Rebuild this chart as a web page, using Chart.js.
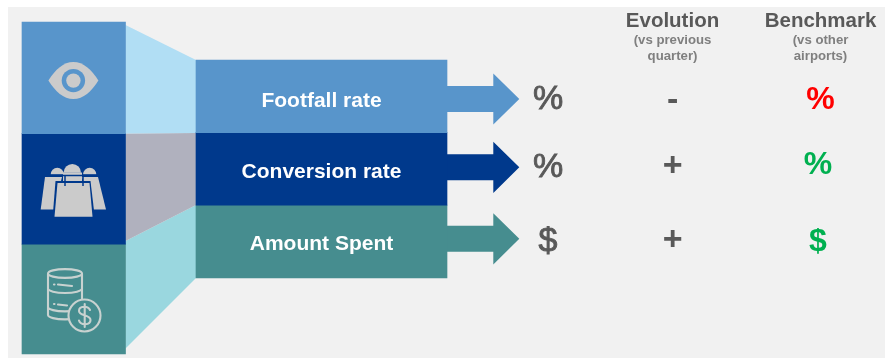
<!DOCTYPE html>
<html>
<head>
<meta charset="utf-8">
<title>Airport sales funnel KPIs</title>
<style>html,body{margin:0;padding:0;background:#fff}canvas{display:block}</style>
<script src="https://cdn.jsdelivr.net/npm/chart.js@4/dist/chart.umd.min.js"></script>
</head>
<body>
<canvas id="c" width="885" height="358"></canvas>
<script>
// Row content
const categories = ['Footfall rate', 'Conversion rate', 'Amount Spent'];
const units = ['%', '%', '$'];
const evolution = ['-', '+', '+'];
const benchmark = ['%', '%', '$'];
const benchmarkState = ['bad', 'good', 'good'];
const columnTitles = ['Evolution', 'Benchmark'];
const columnNotes = [['(vs previous', 'quarter)'], ['(vs other', 'airports)']];

// Diagram geometry, in the units of the two hidden axes
const rowCentres = [96.3, 168.9, 241.5];
const rowSpan = [196, 447];
const rowHeight = 72.6;
const blockCentres = [77.8, 188.8, 299];
const blockSpan = [22, 125.5];
const blockHeights = [111.6, 110.5, 110];
const funnelShapes = [
  [[125.5, 25], [196, 60], [196, 133], [125.5, 133.5]],
  [[125.5, 133.5], [196, 133], [196, 205], [125.5, 241]],
  [[125.5, 241], [196, 205], [196, 278], [125.5, 348.5]]
];
const arrowTips = [99, 167.3, 238.8];
const arrowShape = tip => [
  [447, tip - 13], [493.3, tip - 13], [493.3, tip - 25.6], [519.3, tip],
  [493.3, tip + 25.6], [493.3, tip + 13], [447, tip + 13]
];

const rowColours = ['#5895CB', '#00398C', '#468D8F'];
const funnelColours = ['#B1DEF4', '#B0B1BE', '#9AD7DF'];
const stateColours = { bad: '#FF0000', good: '#00B050' };
const iconGrey = '#CBCBCB';
const inkGrey = '#595959';
const font = 'Liberation Sans, Arial, sans-serif';

const polygon = (pts, colour) => ({
  type: 'scatter', showLine: false, pointRadius: 0,
  data: pts.map(([x, y]) => ({ x, y })),
  polygonFill: colour, xAxisID: 'x', yAxisID: 'y'
});

const band = (span, centres, thicknesses, i) => ({
  type: 'bar', indexAxis: 'y', grouped: false, xAxisID: 'x', yAxisID: 'y',
  data: [{ x: span, y: centres[i] }],
  barThickness: thicknesses,
  backgroundColor: rowColours[i]
});

const drawEye = (ctx, cx, cy, dark) => {
  ctx.fillStyle = iconGrey;
  ctx.beginPath();
  ctx.moveTo(cx - 25, cy);
  ctx.bezierCurveTo(cx - 18, cy - 11, cx - 10, cy - 18.5, cx, cy - 18.5);
  ctx.bezierCurveTo(cx + 10, cy - 18.5, cx + 18, cy - 11, cx + 25, cy);
  ctx.bezierCurveTo(cx + 18, cy + 11, cx + 10, cy + 18.5, cx, cy + 18.5);
  ctx.bezierCurveTo(cx - 10, cy + 18.5, cx - 18, cy + 11, cx - 25, cy);
  ctx.fill();
  ctx.fillStyle = dark;
  ctx.beginPath(); ctx.arc(cx, cy, 11.7, 0, Math.PI * 2); ctx.fill();
  ctx.fillStyle = iconGrey;
  ctx.beginPath(); ctx.arc(cx, cy, 7.2, 0, Math.PI * 2); ctx.fill();
};

const drawBags = (ctx, ox, oy, dark) => {
  const fillPoly = pts => {
    ctx.beginPath();
    pts.forEach(([x, y], i) => i ? ctx.lineTo(ox + x, oy + y) : ctx.moveTo(ox + x, oy + y));
    ctx.closePath(); ctx.fill();
  };
  const dome = (x, y, r) => { ctx.beginPath(); ctx.arc(ox + x, oy + y, r, Math.PI, 0); ctx.fill(); };
  ctx.fillStyle = iconGrey;
  dome(27.3, 24.3, 6.6); dome(42.3, 22.7, 8.7); dome(59.7, 24.3, 6.6);
  fillPoly([[33, 22.5], [52, 22.5], [52, 34], [33, 34]]);
  fillPoly([[15, 27], [32, 27], [24, 59.5], [10.7, 59.5]]);
  fillPoly([[52, 27], [68, 27], [76, 59.5], [62.5, 59.5]]);
  ctx.strokeStyle = dark; ctx.lineWidth = 1.5;
  ctx.beginPath();
  ctx.moveTo(ox + 20, oy + 25.5); ctx.lineTo(ox + 67, oy + 25.5);
  ctx.stroke();
  ctx.fillStyle = dark;
  fillPoly([[25.5, 31], [60.5, 31], [65, 69], [22.5, 69]]);
  ctx.fillStyle = iconGrey;
  fillPoly([[27.5, 33], [59.5, 33], [62.5, 66.7], [24.5, 66.7]]);
  ctx.strokeStyle = dark;
  ctx.beginPath();
  ctx.moveTo(ox + 35, oy + 25); ctx.lineTo(ox + 35, oy + 36);
  ctx.moveTo(ox + 53, oy + 25); ctx.lineTo(ox + 53, oy + 36);
  ctx.stroke();
};

const drawCoins = (ctx, dark) => {
  const ink = '#C8D2D0';
  ctx.strokeStyle = ink; ctx.lineWidth = 2.1; ctx.lineCap = 'round';
  ctx.beginPath();
  ctx.ellipse(65, 273.5, 17, 4.4, 0, 0, Math.PI * 2);
  ctx.moveTo(48, 273.5); ctx.lineTo(48, 315);
  ctx.moveTo(82, 273.5); ctx.lineTo(82, 300);
  [288.6, 307, 315].forEach(y => {
    ctx.moveTo(82, y);
    ctx.ellipse(65, y, 17, 4.4, 0, 0, Math.PI);
  });
  ctx.moveTo(54, 284.5); ctx.lineTo(54.5, 284.5);
  ctx.moveTo(58, 284.5); ctx.lineTo(72, 286);
  ctx.moveTo(54, 304); ctx.lineTo(54.5, 304);
  ctx.moveTo(58, 304.5); ctx.lineTo(67, 305.5);
  ctx.stroke();
  ctx.fillStyle = dark;
  ctx.beginPath(); ctx.arc(84.5, 315.5, 16, 0, Math.PI * 2); ctx.fill(); ctx.stroke();
  ctx.beginPath();
  ctx.moveTo(90, 310);
  ctx.bezierCurveTo(88, 305.5, 79, 305.5, 79, 311);
  ctx.bezierCurveTo(79, 316, 90.5, 314.5, 90.5, 320);
  ctx.bezierCurveTo(90.5, 325.5, 80.5, 325.5, 79, 320.5);
  ctx.moveTo(84.7, 304); ctx.lineTo(84.7, 327);
  ctx.stroke();
};

const diagram = {
  id: 'diagram',
  beforeDraw(chart) {
    const { ctx, scales: { x, y } } = chart;
    ctx.save();
    ctx.fillStyle = '#F1F1F1';
    ctx.fillRect(x.getPixelForValue(8), y.getPixelForValue(7), 885, 358);
    ctx.restore();
  },
  // Scatter datasets carry outlines: fill them from the points the scales placed.
  beforeDatasetDraw(chart, args) {
    const ds = chart.data.datasets[args.index];
    if (!ds.polygonFill) return;
    const ctx = chart.ctx;
    ctx.save();
    ctx.fillStyle = ds.polygonFill;
    ctx.beginPath();
    args.meta.data.forEach((p, i) => i ? ctx.lineTo(p.x, p.y) : ctx.moveTo(p.x, p.y));
    ctx.closePath();
    ctx.fill();
    ctx.restore();
  },
  afterDatasetsDraw(chart) {
    const { ctx, scales: { x, y } } = chart;
    const text = (str, px, py, weight, size, colour, thicken) => {
      ctx.font = `${weight} ${size}px ${font}`;
      ctx.fillStyle = colour;
      const X = x.getPixelForValue(px), Y = y.getPixelForValue(py);
      ctx.fillText(str, X, Y);
      if (thicken) {
        ctx.strokeStyle = colour; ctx.lineWidth = thicken;
        ctx.strokeText(str, X, Y);
      }
    };
    ctx.save();
    ctx.textAlign = 'center';
    ctx.textBaseline = 'alphabetic';
    const labelBase = [106.5, 177.5, 249.5];
    const unitBase = [109, 176.5, 250.5];
    const signBase = [110, 175.5, 250];
    const benchBase = [108.5, 174, 251];
    categories.forEach((name, i) => {
      text(name, 321.5, labelBase[i], 'bold', 21, '#FFFFFF');
      text(units[i], 548, unitBase[i], 'normal', 34, inkGrey, 0.9);
      text(evolution[i], 672.7, signBase[i], 'bold', 34, inkGrey);
      text(benchmark[i], i ? 818 : 820.5, benchBase[i], 'bold', 32, stateColours[benchmarkState[i]]);
    });
    [672.5, 820.5].forEach((cx, i) => {
      text(columnTitles[i], cx, 27, 'bold', 20.5, inkGrey);
      columnNotes[i].forEach((line, j) => text(line, cx, 44 + j * 15.5, 'bold', 13.2, '#7F7F7F'));
    });
    drawEye(ctx, 73.4, 80.6, rowColours[0]);
    drawBags(ctx, 30, 150, rowColours[1]);
    drawCoins(ctx, rowColours[2]);
    ctx.restore();
  }
};

new Chart(document.getElementById('c'), {
  type: 'bar',
  data: {
    datasets: [
      ...categories.map((_, i) => band(blockSpan, blockCentres, blockHeights[i], i)),
      ...categories.map((_, i) => band(rowSpan, rowCentres, rowHeight, i)),
      ...funnelShapes.map((pts, i) => polygon(pts, funnelColours[i])),
      ...arrowTips.map((tip, i) => polygon(arrowShape(tip), rowColours[i]))
    ]
  },
  options: {
    responsive: false,
    animation: false,
    events: [],
    layout: { padding: 0 },
    plugins: { legend: { display: false }, tooltip: { enabled: false }, title: { display: false } },
    scales: {
      x: { type: 'linear', display: false, min: 0, max: 885, offset: false },
      y: { type: 'linear', display: false, min: 0, max: 358, reverse: true, offset: false }
    }
  },
  plugins: [diagram]
});
</script>
</body>
</html>
